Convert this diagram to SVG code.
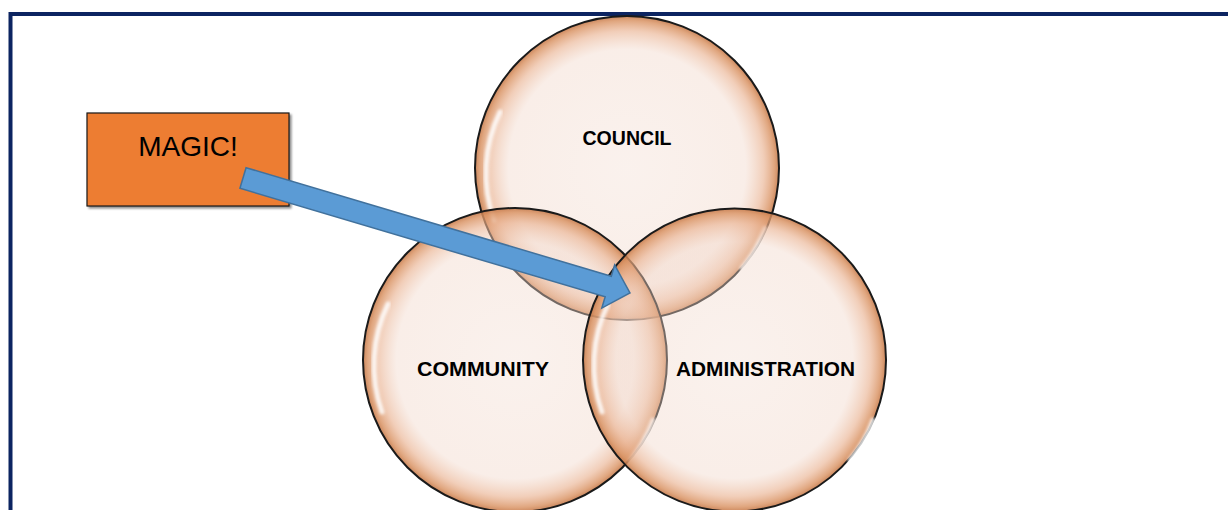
<svg xmlns="http://www.w3.org/2000/svg" width="1228" height="510" viewBox="0 0 1228 510">
<defs>
<radialGradient id="bubble" cx="50%" cy="50%" r="50%">
<stop offset="0" stop-color="#f3ddd2" stop-opacity="0.4"/>
<stop offset="0.78" stop-color="#f1d6c8" stop-opacity="0.42"/>
<stop offset="0.9" stop-color="#e9b08e" stop-opacity="0.62"/>
<stop offset="0.97" stop-color="#d99262" stop-opacity="0.82"/>
<stop offset="1" stop-color="#c5794a" stop-opacity="0.9"/>
</radialGradient>
<filter id="soft" x="-20%" y="-20%" width="140%" height="140%">
<feGaussianBlur stdDeviation="1.6"/>
</filter>
<filter id="shadow" x="-10%" y="-10%" width="130%" height="130%">
<feGaussianBlur in="SourceAlpha" stdDeviation="1.2"/>
<feOffset dx="1.5" dy="1.5"/>
<feComponentTransfer><feFuncA type="linear" slope="0.45"/></feComponentTransfer>
<feMerge><feMergeNode/><feMergeNode in="SourceGraphic"/></feMerge>
</filter>
</defs>
<style>
.bub{fill:url(#bubble);stroke:#1a1a1a;stroke-width:2}
.hl{fill:none;stroke:#ffffff;stroke-width:5;stroke-linecap:round;opacity:0.85;filter:url(#soft)}
.lbl{font-family:"Liberation Sans",Arial,sans-serif;font-weight:bold;font-size:20.5px;fill:#000;text-anchor:middle}
.magic{font-family:"Liberation Sans",Arial,sans-serif;font-size:28px;fill:#000;text-anchor:middle}
</style>
<rect width="1228" height="510" fill="#ffffff"/>
<rect x="10.5" y="14" width="1240" height="520" fill="none" stroke="#0c2461" stroke-width="4"/>

<g id="node-council">
<circle class="bub" cx="627" cy="168" r="152"/>
<path class="hl" d="M 500 112 A 140 140 0 0 0 494 220"/>
<path class="hl" d="M 765 228 A 140 140 0 0 1 742 268"/>
<text class="lbl" x="627" y="145" textLength="89" lengthAdjust="spacingAndGlyphs">COUNCIL</text>
</g>

<g id="node-community">
<circle class="bub" cx="515" cy="360" r="152"/>
<path class="hl" d="M 388 304 A 140 140 0 0 0 382 412"/>
<path class="hl" d="M 653 420 A 140 140 0 0 1 630 460"/>
<text class="lbl" x="483" y="376" textLength="132" lengthAdjust="spacingAndGlyphs">COMMUNITY</text>
</g>

<g id="node-administration">
<circle class="bub" cx="734.5" cy="360" r="151.5"/>
<path class="hl" d="M 608 304 A 140 140 0 0 0 602 412"/>
<path class="hl" d="M 873 420 A 140 140 0 0 1 850 460"/>
<text class="lbl" x="765.5" y="376" textLength="179" lengthAdjust="spacingAndGlyphs">ADMINISTRATION</text>
</g>

<g id="node-magic">
<rect x="87" y="113" width="202" height="93" fill="#ed7d31" stroke="#1a1a1a" stroke-width="1.2" filter="url(#shadow)"/>
<text class="magic" x="188" y="156">MAGIC!</text>
</g>

<g id="connectors">
<polygon transform="translate(243,178) rotate(16.55)" points="0,-10.75 381,-10.75 381,-22.5 403.7,0 381,22.5 381,10.75 0,10.75" fill="#5b9bd5" stroke="#41719c" stroke-width="1.5" stroke-linejoin="miter"/>
</g>
</svg>
